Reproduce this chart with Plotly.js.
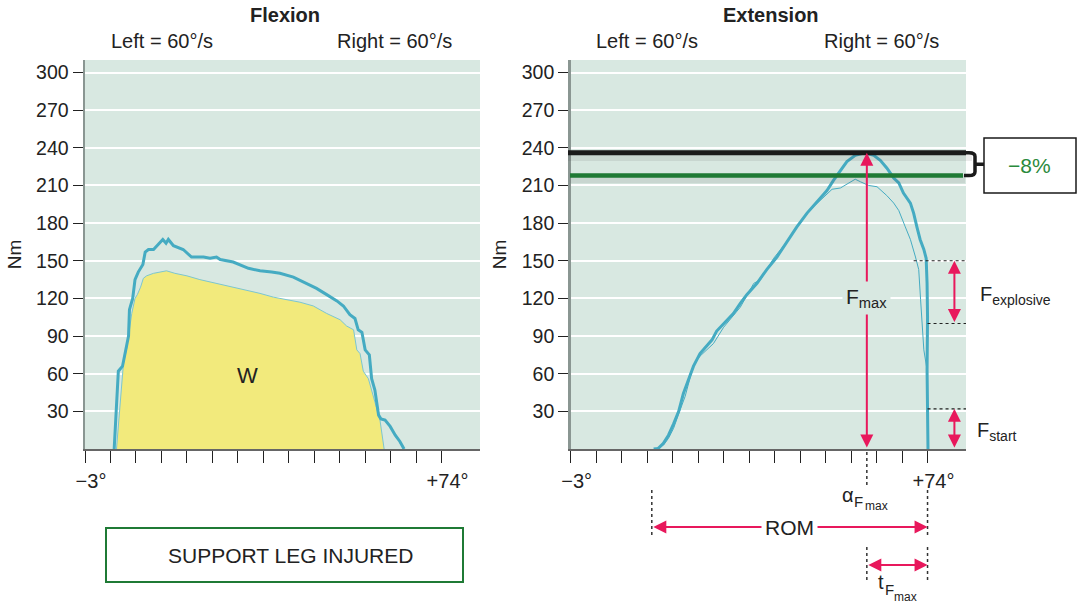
<!DOCTYPE html>
<html>
<head>
<meta charset="utf-8">
<script src="https://cdn.plot.ly/plotly-3.0.1.min.js"></script>
<style>html,body{margin:0;padding:0;background:#fff;}#chart{width:1078px;height:604px;}</style>
</head>
<body>
<div id="chart"></div>
<script>
// ---------- DATA ----------
// Flexion (angle in degrees, torque in Nm)
const flexRightDeg = [3.3,4.2,5.1,5.6,6.4,6.6,7.3,7.8,8.5,9.5,10.0,10.7,11.8,12.8,13.8,14.5,15.0,16.1,18.2,20.0,22.6,24.0,25.4,26.2,29.0,32.3,34.8,37.3,39.1,42.0,44.9,47.0,49.2,51.4,52.8,54.2,55.3,56.0,56.8,57.5,58.4,58.9,59.6,60.4,60.9,61.8,62.9,64.0,65.0,65.9];
const flexRightNm  = [0,62,66,76,90,111,120,135,141,147,157,159,159,163,167,164,167,162,159,153,153,152,153,151,149,144,142,141,140,137,132,128,123,118,114,107,104,95,93,79,75,56,47,27,24,23,18,11,6,0];
const flexLeftDeg  = [3.8,4.6,5.3,6.0,6.4,7.1,7.8,8.3,9.0,9.6,10.3,11.8,13.2,14.6,16.4,19.0,21.8,25.4,29.0,31.9,34.8,37.7,40.6,43.4,46.3,49.2,52.1,53.5,55.0,55.7,56.4,57.1,58.2,59.3,60.7,61.6];
const flexLeftNm   = [0,39,68,80,90,108,120,123,129,136,138,140,141,142,140,138,135,132,129,127,124,121,119,117,114,108,103,98,95,79,76,62,56,42,23,0];
// Extension
const extRightDeg = [14.9,15.9,17.0,18.1,19.2,20.3,21.3,22.4,23.5,24.9,26.4,27.5,28.5,30.0,32.1,33.6,35.0,37.2,39.3,41.5,43.6,45.8,48.0,50.1,52.3,53.7,55.2,56.6,58.4,60.5,62.4,63.8,65.2,66.7,67.8,68.8,70.3,71.0,71.7,72.4,73.2,73.7,73.9,74.0,73.9,74.1];
const extRightNm  = [0,0.5,4.5,11,20,30,44,55,66,76,82,87,94,100,108,116,123,132,143,153,165,177,188,197,206,214,222,229,234,236,234,230,224,216,212,204,196,188,177,167,159,152,132,105,63,0];
const extLeftDeg  = [15.2,17.0,18.1,19.2,20.3,21.7,23.5,24.9,27.8,30.0,33.6,36.5,38.0,40.8,43.6,46.5,49.4,51.6,53.4,55.2,57.0,58.4,59.5,61.3,63.1,65.2,66.7,67.8,69.2,70.3,71.4,72.1,72.5,73.2,73.9,74.1];
const extLeftNm   = [0,3,8.5,16.5,28,42,67,74,84,97,113,132,135,152,165,181,193,201,207,208,212,215,213,210,209,202,196,190,177,167,153,143,119,79,63,0];

// reference values
const peakRight = 236;      // black line
const peakLeft  = 218;      // green line
const deficit   = "\u22128%";
const fmaxAngle = 60.9;
const romStart  = 14.5;
const romEnd    = 74;
const fExplosiveTop = 150, fExplosiveBottom = 100;
const fStartTop = 32;

// axis ticks
const yTicks = [30,60,90,120,150,180,210,240,270,300];
const xTickVals = [-3,2.5,8,13.5,19,24.5,30,35.5,41,46.5,52,57.5,63,68.5,74];
const xTickText = ["\u22123\u00b0","","","","","","","","","","","","","","+74\u00b0"];

// ---------- LAYOUT HELPERS ----------
const W = 1078, H = 604;
const px = x => x / W;
const py = y => 1 - y / H;
const FONT = "Liberation Sans, Arial, Helvetica, sans-serif";
const BG = "#d8e8e1";
const LINE = "#45abc2";
const RED = "#e8185c";
const XR = [-3, 82.3];
const YR = [0, 310];

function xaxis(domain, anchor) {
  return {
    domain: domain, anchor: anchor, range: XR, zeroline: false, showgrid: false,
    showline: true, linecolor: "#666", linewidth: 1.5,
    tickmode: "array", tickvals: xTickVals, ticktext: xTickText,
    ticks: "outside", ticklen: 12, tickwidth: 1, tickcolor: "#222",
    ticklabelstandoff: 1, ticklabelshift: 6,
    tickfont: {family: FONT, size: 20, color: "#222"}, fixedrange: true
  };
}
function yaxis(anchor) {
  return {
    domain: [py(449), py(60)], anchor: anchor, range: YR, zeroline: false,
    showgrid: true, gridcolor: "#ffffff", gridwidth: 2,
    showline: true, linecolor: "#8a9692", linewidth: 2.5,
    tickmode: "array", tickvals: yTicks,
    ticks: "outside", ticklen: 10, tickwidth: 1, tickcolor: "#222",
    tickfont: {family: FONT, size: 19.5, color: "#222"},
    title: {text: "Nm", font: {family: FONT, size: 19, color: "#222"}, standoff: 10},
    fixedrange: true
  };
}

const traces = [
  {x: flexLeftDeg, y: flexLeftNm, xaxis: "x", yaxis: "y", type: "scatter", mode: "lines",
   name: "Left", fill: "tozeroy", fillcolor: "#f2ea7c", line: {color: "#7cc6d0", width: 1}},
  {x: flexRightDeg, y: flexRightNm, xaxis: "x", yaxis: "y", type: "scatter", mode: "lines",
   name: "Right", line: {color: LINE, width: 3}},
  {x: extLeftDeg, y: extLeftNm, xaxis: "x2", yaxis: "y2", type: "scatter", mode: "lines",
   name: "Left", line: {color: LINE, width: 1}},
  {x: extRightDeg, y: extRightNm, xaxis: "x2", yaxis: "y2", type: "scatter", mode: "lines",
   name: "Right", line: {color: LINE, width: 3}}
];

const shapes = [
  // soft shadows of reference lines
  {type: "line", xref: "paper", yref: "y2", x0: px(568), x1: px(972), y0: peakRight - 3, y1: peakRight - 3,
   line: {color: "rgba(60,60,60,0.10)", width: 9}, layer: "above"},
  {type: "line", xref: "paper", yref: "y2", x0: px(570), x1: px(965), y0: peakLeft - 3, y1: peakLeft - 3,
   line: {color: "rgba(60,60,60,0.10)", width: 8}, layer: "above"},
  // black (right peak) line
  {type: "line", xref: "paper", yref: "y2", x0: px(568), x1: px(966), y0: peakRight, y1: peakRight,
   line: {color: "#1a1a1a", width: 5}, layer: "above"},
  // green (left peak) line
  {type: "line", xref: "paper", yref: "y2", x0: px(570), x1: px(963), y0: peakLeft, y1: peakLeft,
   line: {color: "#1f7a35", width: 4.5}, layer: "above"},
  // bracket
  {type: "path", xref: "paper", yref: "y2", layer: "above",
   path: `M ${px(964)},${peakRight} L ${px(969)},${peakRight} Q ${px(975)},${peakRight} ${px(975)},${peakRight-3} L ${px(975)},${peakLeft+3} Q ${px(975)},${peakLeft} ${px(969)},${peakLeft} L ${px(964)},${peakLeft} M ${px(975)},${(peakRight+peakLeft)/2} L ${px(985)},${(peakRight+peakLeft)/2}`,
   line: {color: "#1a1a1a", width: 3.5}},
  // -8% box
  {type: "rect", xref: "paper", yref: "paper", x0: px(984), x1: px(1076), y0: py(193), y1: py(138),
   line: {color: "#1a1a1a", width: 1.5}, fillcolor: "#ffffff", layer: "above"},
  // dotted reference lines right side
  {type: "line", xref: "x2", yref: "y2", x0: 71.0, x1: 82.3, y0: fExplosiveTop, y1: fExplosiveTop,
   line: {color: "#222", width: 1.2, dash: "dot"}, layer: "above"},
  {type: "line", xref: "x2", yref: "y2", x0: 74, x1: 82.3, y0: fExplosiveBottom, y1: fExplosiveBottom,
   line: {color: "#222", width: 1.2, dash: "dot"}, layer: "above"},
  {type: "line", xref: "x2", yref: "y2", x0: 74, x1: 82.3, y0: fStartTop, y1: fStartTop,
   line: {color: "#222", width: 1.2, dash: "dot"}, layer: "above"},
  // dotted verticals below axis
  {type: "line", xref: "x2", yref: "paper", x0: fmaxAngle, x1: fmaxAngle, y0: py(452), y1: py(487),
   line: {color: "#333", width: 1.5, dash: "dot"}},
  {type: "line", xref: "x2", yref: "paper", x0: romStart, x1: romStart, y0: py(490), y1: py(538),
   line: {color: "#333", width: 1.5, dash: "dot"}},
  {type: "line", xref: "x2", yref: "paper", x0: romEnd, x1: romEnd, y0: py(490), y1: py(538),
   line: {color: "#333", width: 1.5, dash: "dot"}},
  {type: "line", xref: "x2", yref: "paper", x0: romEnd, x1: romEnd, y0: py(547), y1: py(582),
   line: {color: "#333", width: 1.5, dash: "dot"}},
  {type: "line", xref: "x2", yref: "paper", x0: fmaxAngle, x1: fmaxAngle, y0: py(547), y1: py(582),
   line: {color: "#333", width: 1.5, dash: "dot"}},
  // support leg box
  {type: "rect", xref: "paper", yref: "paper", x0: px(106), x1: px(463), y0: py(582), y1: py(528),
   line: {color: "#1f7a35", width: 2}, fillcolor: "rgba(0,0,0,0)"}
];

const txt = (text, x, y, size, opts) => Object.assign({
  text: text, xref: "paper", yref: "paper", x: px(x), y: py(y), showarrow: false,
  xanchor: "center", yanchor: "middle", font: {family: FONT, size: size, color: "#222"}
}, opts || {});

const arrow = (opts) => Object.assign({
  text: "", showarrow: true, arrowside: "end+start", arrowhead: 2, startarrowhead: 2,
  arrowsize: 1.3, startarrowsize: 1.3, arrowwidth: 2, arrowcolor: RED, standoff: 0, startstandoff: 0
}, opts);

const annotations = [
  txt("<b>Flexion</b>", 285, 15, 20),
  txt("Left = 60\u00b0/s", 162, 41, 20),
  txt("Right = 60\u00b0/s", 394, 41, 20),
  txt("<b>Extension</b>", 771, 15, 20),
  txt("Left = 60\u00b0/s", 647, 41, 20),
  txt("Right = 60\u00b0/s", 881, 41, 20),
  txt("W", 247, 375, 22),
  txt("SUPPORT LEG INJURED", 290, 555, 21),
  txt(deficit, 1029, 165, 21, {font: {family: FONT, size: 21, color: "#2a8a3c"}}),
  // Fmax arrow
  arrow({xref: "x2", yref: "y2", x: fmaxAngle, y: peakRight, axref: "x2", ayref: "y2", ax: fmaxAngle, ay: 0}),
  {text: "F<sub>max</sub>", xref: "x2", yref: "y2", x: fmaxAngle, y: 120, showarrow: false,
   xanchor: "center", yanchor: "middle", bgcolor: BG, borderpad: 3,
   font: {family: FONT, size: 21, color: "#222"}},
  // F explosive arrow
  arrow({xref: "x2", yref: "y2", x: 79.8, y: fExplosiveTop, axref: "x2", ayref: "y2", ax: 79.8, ay: fExplosiveBottom}),
  txt("F<sub>explosive</sub>", 1015, 295, 20),
  // F start arrow
  arrow({xref: "x2", yref: "y2", x: 79.8, y: fStartTop, axref: "x2", ayref: "y2", ax: 79.8, ay: 0}),
  txt("F<sub>start</sub>", 997, 431, 20),
  // alpha Fmax
  txt("\u03b1", 848, 495, 20),
  txt("F", 858, 501, 15),
  txt("max", 876, 506, 12),
  // ROM
  arrow({xref: "x2", yref: "paper", x: romEnd, y: py(527), axref: "x2", ayref: "pixel", ax: romStart, ay: 0}),
  txt("ROM", 789, 527, 21, {bgcolor: "#ffffff", borderpad: 3}),
  // t Fmax
  arrow({xref: "x2", yref: "paper", x: romEnd, y: py(565), axref: "x2", ayref: "pixel", ax: fmaxAngle, ay: 0}),
  txt("t", 881, 582, 20),
  txt("F", 889, 589, 15),
  txt("max", 905, 597, 12)
];

const layout = {
  width: W, height: H, margin: {l: 0, r: 0, t: 0, b: 0},
  paper_bgcolor: "#ffffff", plot_bgcolor: BG, showlegend: false,
  font: {family: FONT, color: "#222"},
  xaxis: xaxis([px(85), px(480)], "y"),
  yaxis: yaxis("x"),
  xaxis2: xaxis([px(570.7), px(966)], "y2"),
  yaxis2: yaxis("x2"),
  shapes: shapes, annotations: annotations
};

Plotly.newPlot("chart", traces, layout, {staticPlot: true, displayModeBar: false});
</script>
</body>
</html>
